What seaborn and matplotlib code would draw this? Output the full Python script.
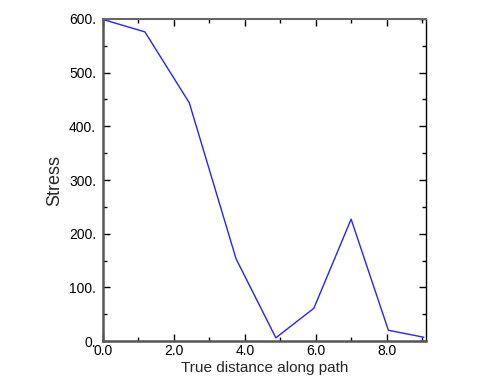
import matplotlib
matplotlib.use("Agg")
import matplotlib.pyplot as plt
import seaborn as sns
import pandas as pd
from matplotlib.ticker import FixedLocator, MultipleLocator, FuncFormatter

distance = [0.0, 1.18, 2.43, 3.75, 4.87, 5.94, 6.99, 8.04, 9.04]
stress = [599, 576, 444, 153, 6, 61, 227, 20, 7]
x_ticks = [0, 2, 4, 6, 8]
y_ticks = [0, 100, 200, 300, 400, 500, 600]

sns.set_theme(style="white")
plt.rcParams['font.family'] = ['Liberation Sans', 'DejaVu Sans']

df = pd.DataFrame({"distance": distance, "stress": stress})

fig = plt.figure(figsize=(4.89, 3.90), dpi=100)
ax = fig.add_axes([0.2106, 0.1256, 0.8712 - 0.2106, 0.9513 - 0.1256])
sns.lineplot(data=df, x="distance", y="stress", ax=ax, color="#2424ff",
             linewidth=1.0, sort=False, estimator=None)

ax.set_xlim(0, 9.1)
ax.set_ylim(0, 600)
ax.xaxis.set_major_locator(FixedLocator(x_ticks))
ax.xaxis.set_minor_locator(MultipleLocator(1))
ax.yaxis.set_major_locator(FixedLocator(y_ticks))
ax.yaxis.set_minor_locator(MultipleLocator(50))
ax.xaxis.set_major_formatter(FuncFormatter(lambda v, p: f"{v:.1f}"))
ax.yaxis.set_major_formatter(FuncFormatter(lambda v, p: f"{int(round(v))}."))

ax.tick_params(which="both", direction="in", top=True, right=True,
               bottom=True, left=True, colors="black", labelsize=10)
ax.tick_params(which="major", length=5, width=1)
ax.tick_params(which="minor", length=3, width=1)
ax.tick_params(axis="x", which="major", pad=2)
ax.tick_params(axis="y", which="major", pad=5)

for side in ["left", "bottom"]:
    ax.spines[side].set_color("#555555")
    ax.spines[side].set_linewidth(1.8)
ax.spines["top"].set_color("#666666")
ax.spines["top"].set_linewidth(1.5)
ax.spines["right"].set_color("black")
ax.spines["right"].set_linewidth(1.0)

ax.set_xlabel("True distance along path", fontsize=11, labelpad=2.5)
ax.set_ylabel("Stress", fontsize=13, labelpad=4)

fig.savefig("out.png", dpi=100, facecolor="white")
